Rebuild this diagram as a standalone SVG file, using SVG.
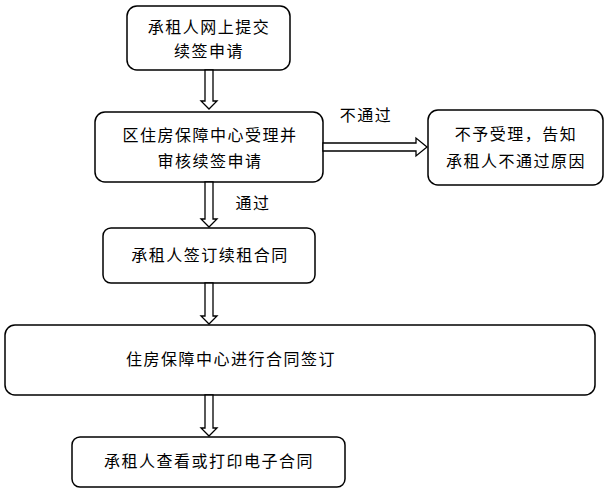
<svg xmlns="http://www.w3.org/2000/svg" width="607" height="494" viewBox="0 0 607 494">
<style>
.b{fill:#fff;stroke:#000;stroke-width:1.5}
.a{fill:#fff;stroke:#000;stroke-width:1.3}
text{font-family:"Noto Sans CJK SC",sans-serif;font-size:16px;letter-spacing:1.5px;fill:#000;text-anchor:middle}
</style>
<rect width="607" height="494" fill="#fff"/>
<g id="n1"><rect class="b" x="127" y="6" width="163" height="64" rx="10"/><text x="209" y="33">承租人网上提交</text><text x="209" y="57">续签申请</text></g>
<g id="n2"><rect class="b" x="95" y="112" width="228" height="70" rx="10"/><text x="210" y="141">区住房保障中心受理并</text><text x="210" y="167">审核续签申请</text></g>
<g id="n3"><rect class="b" x="428" y="110" width="175" height="75" rx="10"/><text x="516" y="140">不予受理，告知</text><text x="516" y="167">承租人不通过原因</text></g>
<g id="n4"><rect class="b" x="103" y="228" width="212" height="55" rx="8"/><text x="210" y="261">承租人签订续租合同</text></g>
<g id="n5"><rect class="b" x="5" y="325" width="590" height="70" rx="10"/><text x="231" y="365">住房保障中心进行合同签订</text></g>
<g id="n6"><rect class="b" x="72" y="437" width="273" height="50" rx="8"/><text x="209" y="467">承租人查看或打印电子合同</text></g>
<g id="edges">
<path class="a" d="M205,70V101H201L209,109L217,101H213V70Z"/>
<path class="a" d="M205,182V219H201L209,227L217,219H213V182Z"/>
<path class="a" d="M205,283V316H201L209,324L217,316H213V283Z"/>
<path class="a" d="M205,395V428H201L209,436L217,428H213V395Z"/>
<path class="a" d="M323,143H416V138L427,147L416,156V151H323Z"/>
<text x="366" y="121">不通过</text>
<text x="253" y="209">通过</text>
</g>
</svg>
